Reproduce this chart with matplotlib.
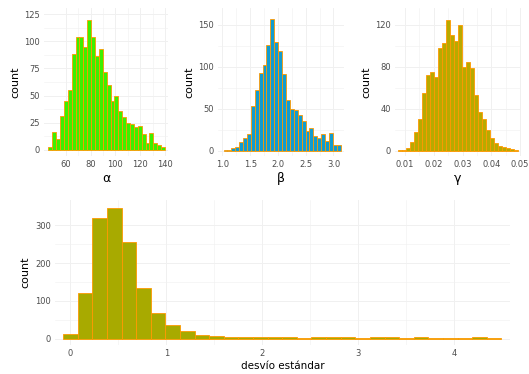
import numpy as np
import matplotlib
matplotlib.use('Agg')
import matplotlib.pyplot as plt

# histogram counts (30 bins each)
alpha_range = (46.0, 140.0)
alpha_counts = [2, 16, 10, 31, 45, 55, 88, 104, 104, 95, 120, 104, 87, 93, 72,
                60, 45, 50, 36, 30, 25, 24, 21, 22, 14, 6, 15, 6, 4, 2]

beta_range = (1.02, 3.13)
beta_counts = [0.5, 1, 3, 5, 10, 15, 20, 53, 72, 93, 102, 126, 157, 129, 119,
               91, 60, 50, 49, 43, 35, 23, 27, 18, 15, 20, 11, 21, 7, 7]

gamma_range = (0.0077, 0.0491)
gamma_counts = [1, 1, 3, 8, 18, 30, 55, 72, 75, 70, 98, 103, 125, 110, 105,
                120, 80, 85, 79, 53, 37, 30, 20, 12, 7, 5, 4, 3, 2, 1]

sd_range = (-0.075, 4.49)
sd_counts = [12, 122, 318, 346, 255, 135, 68, 38, 20, 10, 9, 5, 6, 4, 4,
             4, 3, 4, 5, 4, 3, 4, 4, 3, 4, 3, 3, 3, 4, 3]

W, H = 529, 374
fig = plt.figure(figsize=(W / 100, H / 100), dpi=100)
fig.patch.set_facecolor('white')

EDGE = '#ff9900'
GRID = '#f0f0f0'


def px_axes(left, top, right, bottom):
    return fig.add_axes([left / W, 1 - bottom / H, (right - left) / W, (bottom - top) / H])


def hist(ax, rng, counts, fill, lw, xlim, ylim, xticks, yticks, xlab, fmt=None, xfs=9):
    edges = np.linspace(rng[0], rng[1], len(counts) + 1)
    ax.bar(edges[:-1], counts, width=np.diff(edges), align='edge',
           color=fill, edgecolor=EDGE, linewidth=lw, zorder=2)
    ax.set_xlim(*xlim)
    ax.set_ylim(*ylim)
    ax.set_xticks(xticks)
    ax.set_yticks(yticks)
    if fmt:
        ax.set_xticklabels([fmt.format(t) for t in xticks])
    mx = [(a + b) / 2 for a, b in zip(xticks[:-1], xticks[1:])]
    my = [(a + b) / 2 for a, b in zip(yticks[:-1], yticks[1:])]
    ax.set_xticks(mx, minor=True)
    ax.set_yticks(my, minor=True)
    ax.grid(True, which='major', color=GRID, lw=0.7, zorder=0)
    ax.grid(True, which='minor', color=GRID, lw=0.4, zorder=0)
    ax.set_axisbelow(True)
    for s in ax.spines.values():
        s.set_visible(False)
    ax.tick_params(which='both', length=0, labelsize=6, labelcolor='#4d4d4d', pad=3)
    ax.set_xlabel(xlab, fontsize=xfs, labelpad=2)
    ax.set_ylabel('count', fontsize=8, labelpad=3)


ax1 = px_axes(44, 8, 168, 156)
hist(ax1, alpha_range, alpha_counts, '#3cf000', 0.6, (42.5, 142.4), (-6, 131),
     [60, 80, 100, 120, 140], [0, 25, 50, 75, 100, 125], 'α')

ax2 = px_axes(218, 8, 344, 156)
hist(ax2, beta_range, beta_counts, '#129ccf', 0.6, (0.92, 3.19), (-6.3, 170),
     [1.0, 1.5, 2.0, 2.5, 3.0], [0, 50, 100, 150], 'β', '{:.1f}')

ax3 = px_axes(395, 8, 521, 156)
hist(ax3, gamma_range, gamma_counts, '#b8aa00', 0.6, (0.0065, 0.0503), (-5, 136),
     [0.01, 0.02, 0.03, 0.04, 0.05], [0, 40, 80, 120], 'γ', '{:.2f}')

ax4 = px_axes(55, 200, 510, 345)
hist(ax4, sd_range, sd_counts, '#a8aa00', 0.6, (-0.16, 4.58), (-16, 366),
     [0, 1, 2, 3, 4], [0, 100, 200, 300], 'desvío estándar', xfs=7.5)

fig.savefig('out.png', dpi=100)
